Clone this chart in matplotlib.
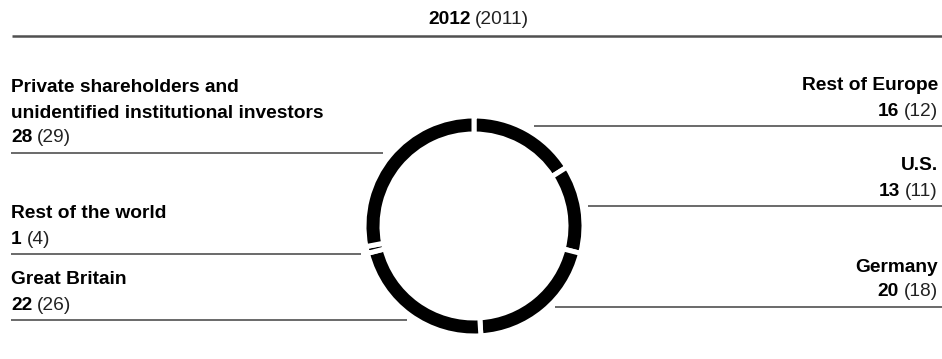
import matplotlib
matplotlib.use("Agg")
import matplotlib.pyplot as plt

plt.rcParams['font.family'] = ['Liberation Sans', 'DejaVu Sans']

# shareholder structure, percent: 2012 with 2011 in brackets
regions = ["Rest of Europe", "U.S.", "Germany", "Great Britain",
           "Rest of the world",
           "Private shareholders and\nunidentified institutional investors"]
share_2012 = [16, 13, 20, 22, 1, 28]
share_2011 = [12, 11, 18, 26, 4, 29]

W, H = 942, 359
fig = plt.figure(figsize=(W / 100, H / 100), dpi=100)

# full-size axes in pixel units for the labels and rules
ax = fig.add_axes([0, 0, 1, 1])
ax.set_xlim(0, W)
ax.set_ylim(H, 0)
ax.axis('off')

fs = 13.8
line_col = '#505050'

ax.text(471, 19, "2012", fontsize=fs, fontweight='bold', ha='right', va='center')
ax.text(475, 19, "(2011)", fontsize=fs, ha='left', va='center', color='#222222')
ax.plot([12, W], [36, 36], color=line_col, lw=1.8, solid_capstyle='butt')

# label block: (region index, side, y of the rule, rule start, rule end)
blocks = [
    (5, 'left', 153, 11, 383),
    (4, 'left', 254, 11, 361),
    (3, 'left', 320, 11, 407),
    (0, 'right', 126, 534, W),
    (1, 'right', 206, 588, W),
    (2, 'right', 307, 555, W),
]

for i, side, yl, x0, x1 in blocks:
    name_lines = regions[i].split("\n")
    xt = 11 if side == 'left' else 938
    ha = 'left' if side == 'left' else 'right'
    y_val = yl - 15
    for k, line in enumerate(reversed(name_lines)):
        ax.text(xt, y_val - 25 * (k + 1), line, fontsize=fs, fontweight='bold',
                ha=ha, va='center')
    # value in bold, previous year in brackets
    bold = ax.text(xt, y_val, f"{share_2012[i]}", fontsize=fs, fontweight='bold',
                   ha='left', va='center')
    fig.canvas.draw()
    bw = bold.get_window_extent().width
    if side == 'left':
        ax.text(xt + bw + 5, y_val, f"({share_2011[i]})", fontsize=fs,
                ha='left', va='center', color='#222222')
    else:
        prev = ax.text(xt, y_val, f"({share_2011[i]})", fontsize=fs,
                       ha='right', va='center', color='#222222')
        fig.canvas.draw()
        pw = prev.get_window_extent().width
        bold.set_position((xt - pw - 5, y_val))
        bold.set_ha('right')
    ax.plot([x0, x1], [yl, yl], color=line_col, lw=1.2, solid_capstyle='butt')

# ring chart in its own axes, units are pixels
cx, cy, half = 474, 226, 120
pax = fig.add_axes([(cx - half) / W, (H - cy - half) / H, 2 * half / W, 2 * half / H])
gap = 5.0
r_out = 107.5
ring = 13
pax.pie(share_2012, startangle=90, counterclock=False, colors=['black'] * len(share_2012),
        radius=r_out + gap / 2,
        wedgeprops=dict(width=ring + gap, edgecolor='white', linewidth=gap * 0.72))
pax.set_xlim(-half, half)
pax.set_ylim(-half, half)
pax.set_aspect('equal')
pax.axis('off')

fig.savefig("out.png", dpi=100)
